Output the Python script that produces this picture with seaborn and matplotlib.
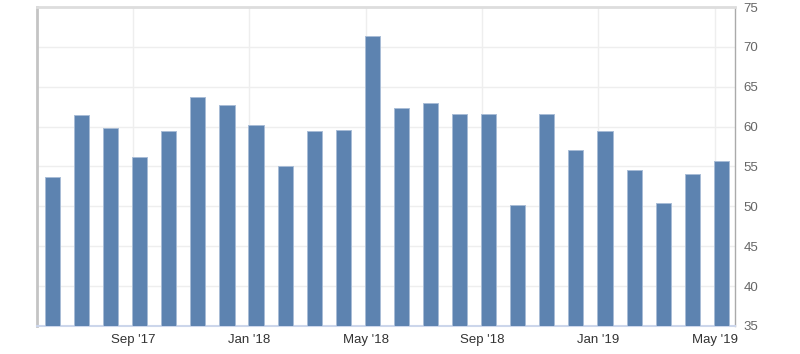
import pandas as pd
import seaborn as sns
import matplotlib.pyplot as plt

# monthly readings, Jun 2017 - May 2019
months = ['Jun 17', 'Jul 17', 'Aug 17', 'Sep 17', 'Oct 17', 'Nov 17', 'Dec 17',
          'Jan 18', 'Feb 18', 'Mar 18', 'Apr 18', 'May 18', 'Jun 18', 'Jul 18',
          'Aug 18', 'Sep 18', 'Oct 18', 'Nov 18', 'Dec 18', 'Jan 19', 'Feb 19',
          'Mar 19', 'Apr 19', 'May 19']
values = [53.7, 61.5, 59.8, 56.2, 59.5, 63.7, 62.7, 60.2, 55.1, 59.5, 59.6, 71.4,
          62.3, 62.9, 61.6, 61.6, 50.2, 61.6, 57.1, 59.5, 54.6, 50.4, 54.1, 55.7]
tick_months = ['Sep 17', 'Jan 18', 'May 18', 'Sep 18', 'Jan 19', 'May 19']
tick_labels = ["Sep '17", "Jan '18", "May '18", "Sep '18", "Jan '19", "May '19"]
y_ticks = [35, 40, 45, 50, 55, 60, 65, 70, 75]

df = pd.DataFrame({'month': months, 'value': values})

sns.set_style('white')
plt.rcParams['font.family'] = ['Liberation Sans', 'DejaVu Sans']

fig = plt.figure(figsize=(8, 3.54), dpi=100)
ax = fig.add_axes([37 / 800, 28 / 354, 698 / 800, 319 / 354])

sns.barplot(data=df, x='month', y='value', ax=ax, color='#5d83b0', saturation=1,
            width=0.52, edgecolor='#a8bcd6', linewidth=0.7, zorder=3)

# month ticks sit at the start of the month, bars are mid-month
tick_pos = [months.index(m) - 0.23 for m in tick_months]
ax.set_xticks(tick_pos)
ax.set_xticklabels(tick_labels)
ax.set_xlim(-0.533, 23.47)

ax.set_ylim(35, 75)
ax.set_yticks(y_ticks)
ax.yaxis.tick_right()
ax.set_xlabel('')
ax.set_ylabel('')

ax.grid(True, axis='both', color='#eeeeee', linewidth=1, zorder=0)
ax.set_axisbelow(True)
ax.tick_params(axis='both', length=0, labelsize=9.5)
ax.tick_params(axis='y', pad=6, colors='#666666')
ax.tick_params(axis='x', pad=6, colors='#333333')

ax.spines['top'].set_color('#dddddd')
ax.spines['top'].set_linewidth(2)
ax.spines['left'].set_color('#c4c4c4')
ax.spines['left'].set_linewidth(2)
ax.spines['right'].set_color('#aaaaaa')
ax.spines['right'].set_linewidth(1)
ax.spines['bottom'].set_color('#ccd6eb')
ax.spines['bottom'].set_linewidth(1.5)

plt.savefig('out.png', dpi=100)
